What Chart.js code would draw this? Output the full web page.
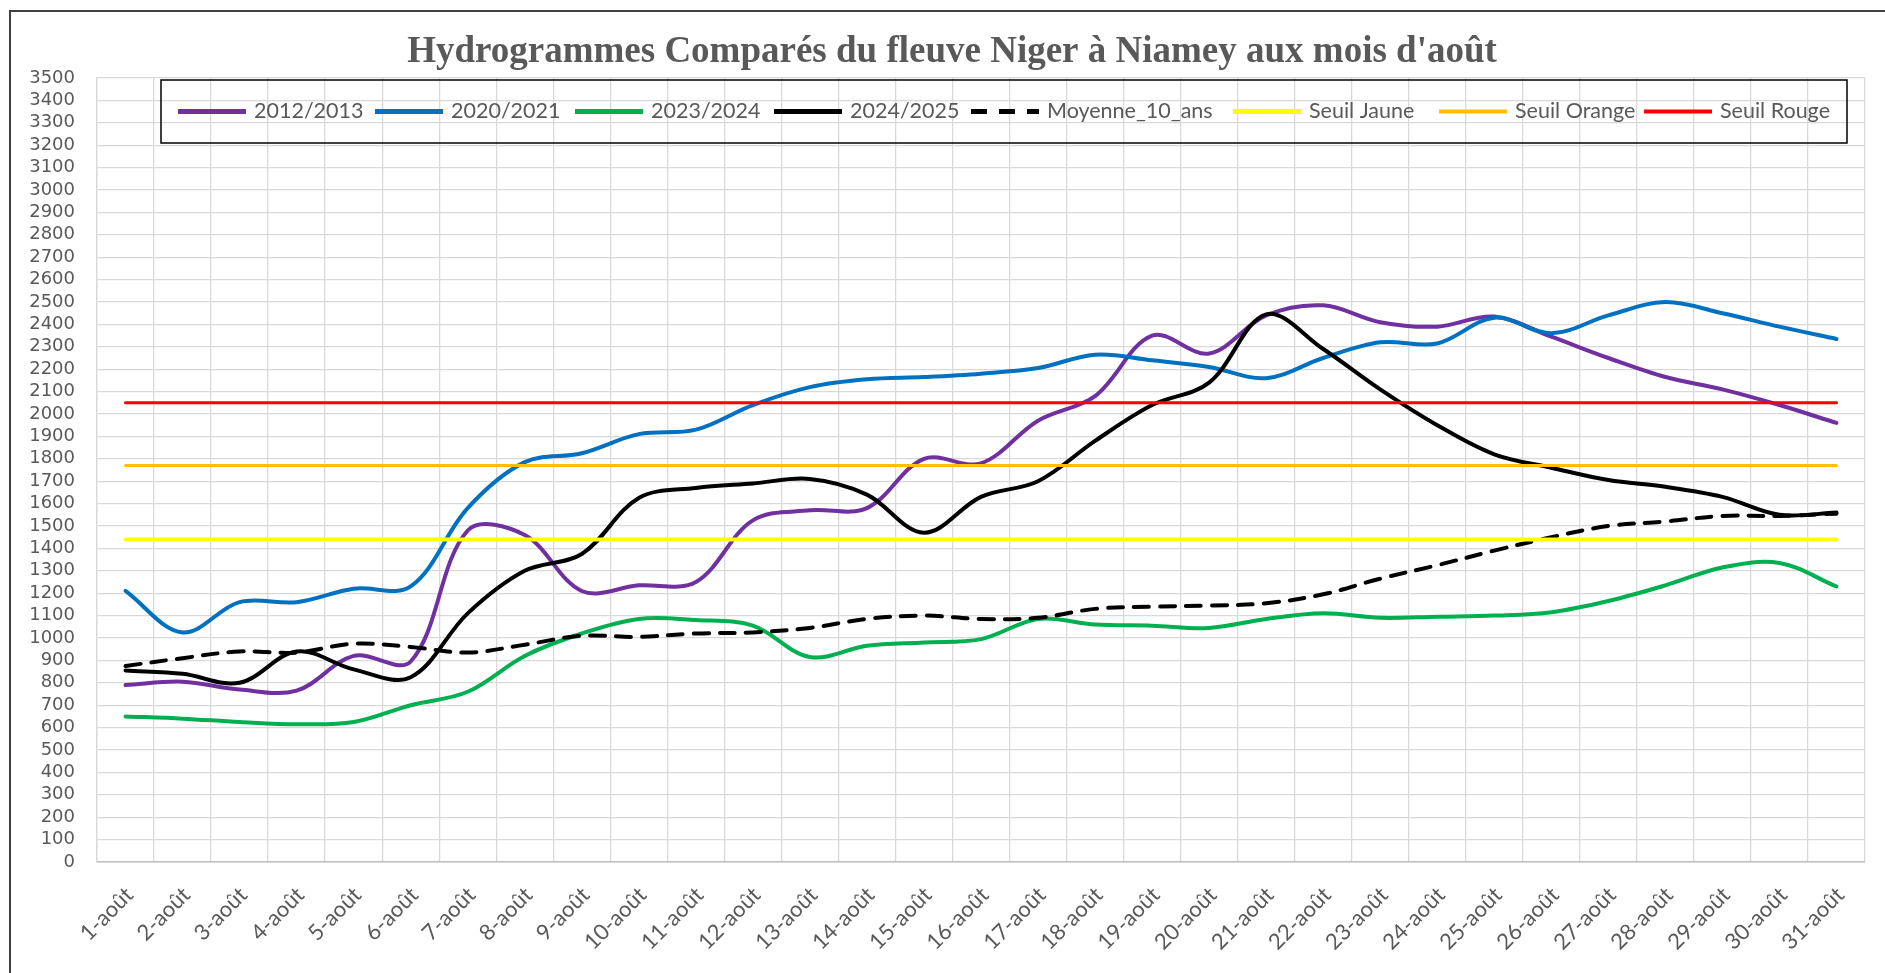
<!DOCTYPE html>
<html lang="fr">
<head>
    <meta charset="UTF-8">
    <title>Hydrogrammes Comparés du fleuve Niger à Niamey</title>
    <style>
        html, body {
            margin: 0;
            padding: 0;
            background: #fff;
        }

        #wrap {
            width: 1885px;
            height: 973px;
        }
    </style>
</head>
<body>
    <div id="wrap">
        <canvas id="hydro" width="1885" height="973"></canvas>
    </div>

    <script src="https://cdn.jsdelivr.net/npm/chart.js"></script>
    <script>
        const titre = "Hydrogrammes Comparés du fleuve Niger à Niamey aux mois d'août";

        // jours du mois d'août
        const jours = ['1-août', '2-août', '3-août', '4-août', '5-août', '6-août', '7-août', '8-août',
            '9-août', '10-août', '11-août', '12-août', '13-août', '14-août', '15-août', '16-août',
            '17-août', '18-août', '19-août', '20-août', '21-août', '22-août', '23-août', '24-août',
            '25-août', '26-août', '27-août', '28-août', '29-août', '30-août', '31-août'];

        // débits (m3/s)
        const serie2012 = [790, 805, 770, 765, 920, 895, 1480, 1460, 1210, 1235, 1250, 1525, 1570, 1580, 1800, 1780,
            1970, 2080, 2350, 2270, 2440, 2485, 2410, 2390, 2435, 2345, 2250, 2165, 2110, 2040, 1960];
        const serie2020 = [1210, 1025, 1160, 1160, 1220, 1230, 1580, 1785, 1825, 1910, 1930, 2040, 2120, 2155, 2165, 2180,
            2205, 2265, 2240, 2210, 2160, 2250, 2320, 2315, 2430, 2360, 2440, 2500, 2450, 2390, 2335];
        const serie2023 = [650, 640, 625, 615, 625, 700, 760, 920, 1020, 1085, 1080, 1055, 915, 965, 980, 995,
            1085, 1060, 1055, 1045, 1085, 1110, 1090, 1095, 1100, 1115, 1165, 1235, 1315, 1335, 1230];
        const serie2024 = [855, 840, 800, 940, 860, 825, 1110, 1300, 1375, 1625, 1670, 1690, 1710, 1640, 1470, 1630,
            1700, 1880, 2040, 2140, 2445, 2290, 2110, 1950, 1820, 1760, 1705, 1675, 1630, 1550, 1560];
        const moyenne10ans = [875, 910, 940, 935, 975, 960, 935, 970, 1010, 1005, 1020, 1025, 1045, 1085, 1100, 1085,
            1090, 1130, 1140, 1145, 1155, 1195, 1265, 1325, 1390, 1450, 1500, 1520, 1545, 1545, 1555];

        // seuils d'alerte
        const seuilJaune = 1440;
        const seuilOrange = 1770;
        const seuilRouge = 2050;

        const grey = '#595959';

        function serie(label, data, color, width, dash) {
            return {
                label: label,
                data: data,
                borderColor: color,
                backgroundColor: color,
                borderWidth: width,
                borderDash: dash || [],
                pointRadius: 0,
                fill: false
            };
        }

        const datasets = [
            serie('2012/2013', serie2012, '#7030A0', 4),
            serie('2020/2021', serie2020, '#0070C0', 4),
            serie('2023/2024', serie2023, '#00B050', 4),
            serie('2024/2025', serie2024, '#000000', 4),
            serie('Moyenne_10_ans', moyenne10ans, '#000000', 4, [15, 11]),
            serie('Seuil Jaune', jours.map(() => seuilJaune), '#FFFF00', 4),
            serie('Seuil Orange', jours.map(() => seuilOrange), '#FFC000', 3),
            serie('Seuil Rouge', jours.map(() => seuilRouge), '#FF0000', 3)
        ];
        // Excel: the last series is drawn on top
        datasets.forEach((ds, i) => { ds.order = -i; });

        // white background, outer frame of the chart object and the title
        const framePlugin = {
            id: 'frame',
            beforeDraw(chart) {
                const ctx = chart.ctx;
                ctx.save();
                ctx.fillStyle = '#fff';
                ctx.fillRect(0, 0, chart.width, chart.height);
                ctx.strokeStyle = '#404040';
                ctx.lineWidth = 2;
                ctx.beginPath();
                ctx.moveTo(10, chart.height + 5);
                ctx.lineTo(10, 11);
                ctx.lineTo(chart.width + 5, 11);
                ctx.stroke();

                ctx.fillStyle = grey;
                ctx.font = 'bold 37px "Liberation Serif"';
                ctx.textAlign = 'center';
                ctx.textBaseline = 'middle';
                ctx.fillText(titre, 952, 52);
                ctx.restore();
            }
        };

        // legend boxed inside the plot area, like the Excel one
        // left edge of each legend entry, measured from the box's left side
        const legendSlots = [17, 214, 414, 613, 810, 1072, 1278, 1483];
        const boxLegend = {
            id: 'boxLegend',
            afterDraw(chart) {
                const ctx = chart.ctx;
                const area = chart.chartArea;
                const left = area.left + 64;
                const top = area.top + 2;
                const w = 1686;
                const h = 63;
                const cy = top + h / 2;

                ctx.save();
                ctx.strokeStyle = '#000';
                ctx.lineWidth = 1.5;
                ctx.strokeRect(left, top, w, h);

                ctx.font = '21.5px Lato';
                ctx.textBaseline = 'middle';
                ctx.textAlign = 'left';
                chart.data.datasets.forEach((ds, i) => {
                    const x = left + legendSlots[i];
                    ctx.strokeStyle = ds.borderColor;
                    ctx.lineWidth = ds.borderWidth + 1;
                    ctx.setLineDash(ds.borderDash.length ? [16, 12] : []);
                    ctx.beginPath();
                    ctx.moveTo(x, cy);
                    ctx.lineTo(x + 68, cy);
                    ctx.stroke();
                    ctx.setLineDash([]);
                    ctx.fillStyle = grey;
                    ctx.fillText(ds.label, x + 76, cy);
                });
                ctx.restore();
            }
        };

        new Chart(document.getElementById('hydro'), {
            type: 'line',
            data: {
                labels: jours,
                datasets: datasets
            },
            options: {
                responsive: false,
                devicePixelRatio: 1,
                animation: false,
                layout: {
                    padding: { left: 20, right: 20, top: 78, bottom: 0 },
                    autoPadding: false
                },
                elements: {
                    line: { tension: 0.35, borderCapStyle: 'round', borderJoinStyle: 'round' }
                },
                scales: {
                    x: {
                        offset: true,
                        grid: { offset: true, color: '#d9d9d9', lineWidth: 1.3, drawTicks: false },
                        border: { color: '#bfbfbf', width: 1.5 },
                        ticks: {
                            autoSkip: false,
                            minRotation: 45,
                            maxRotation: 45,
                            padding: 20,
                            labelOffset: 4,
                            color: grey,
                            font: { family: 'Lato', size: 22 }
                        },
                        afterFit(scale) { scale.height = 111; }
                    },
                    y: {
                        min: 0,
                        max: 3500,
                        grid: { color: '#d9d9d9', lineWidth: 1.3, drawTicks: false },
                        border: { color: '#d9d9d9', width: 1.3 },
                        ticks: {
                            stepSize: 100,
                            autoSkip: false,
                            padding: 22,
                            color: grey,
                            font: { family: 'DejaVu Sans', size: 18 },
                            callback: value => String(value)
                        },
                        afterFit(scale) { scale.width = 77; }
                    }
                },
                plugins: {
                    legend: { display: false },
                    tooltip: { enabled: false },
                    title: { display: false }
                }
            },
            plugins: [framePlugin, boxLegend]
        });
    </script>
</body>
</html>
